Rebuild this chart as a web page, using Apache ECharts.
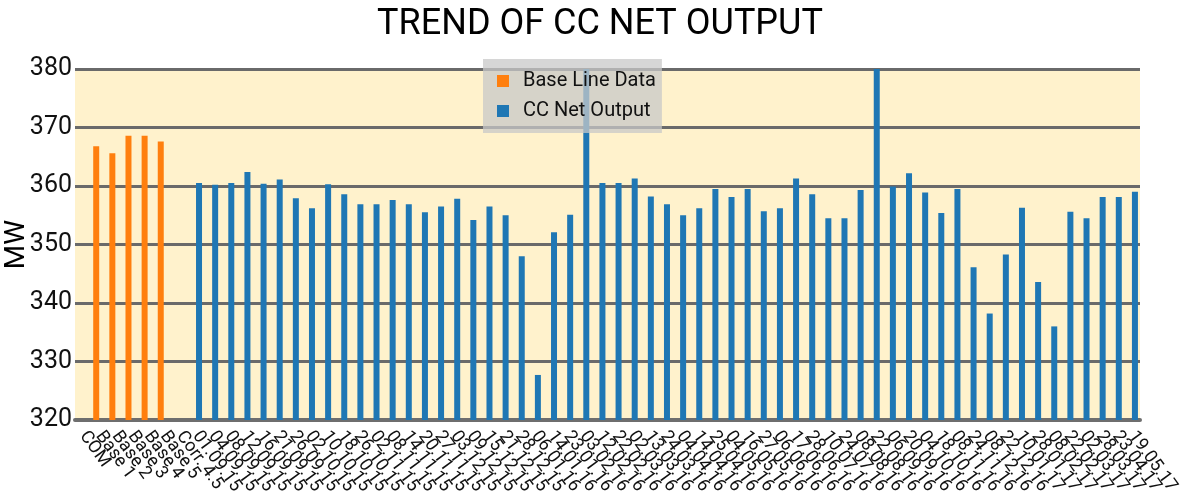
<!DOCTYPE html>
<html>
<head>
<meta charset="utf-8">
<script src="https://cdn.jsdelivr.net/npm/echarts@6/dist/echarts.min.js"></script>
<style>
html,body{margin:0;padding:0;background:#fff;}
#chart{width:1200px;height:500px;}
</style>
</head>
<body>
<div id="chart"></div>
<script>
// Category labels (x axis)
var headLabels = ["COM", "Base 1", "Base 2", "Base 3", "Base 4", "Base 5", "Corr. 4.5"];
var dateLabels = [
  "01.09.15","04.09.15","08.09.15","12.09.15","16.09.15","21.09.15","26.09.15",
  "02.10.15","10.10.15","18.10.15","26.10.15",
  "02.11.15","08.11.15","14.11.15","20.11.15","27.11.15",
  "03.12.15","09.12.15","15.12.15","21.12.15","28.12.15",
  "06.01.16","14.01.16","23.01.16",
  "03.02.16","12.02.16","22.02.16",
  "02.03.16","13.03.16","24.03.16",
  "04.04.16","14.04.16","25.04.16",
  "04.05.16","16.05.16","27.05.16",
  "06.06.16","17.06.16","28.06.16",
  "10.07.16","24.07.16",
  "08.08.16","22.08.16",
  "06.09.16","20.09.16",
  "04.10.16","18.10.16",
  "08.11.16","24.11.16",
  "08.12.16","22.12.16",
  "10.01.17","28.01.17",
  "08.02.17","22.02.17",
  "02.03.17","28.03.17",
  "23.04.17",
  "19.05.17"
];
// Base line values (categories "Base 1".."Base 5")
var baseLineValues = [366.8, 365.6, 368.6, 368.6, 367.6];
// CC net output values (one per date label)
var ccNetOutputValues = [
  360.5, 360.2, 360.5, 362.4, 360.4, 361.1, 357.9, 356.2, 360.3, 358.6,
  356.9, 356.9, 357.6, 356.9, 355.5, 356.5, 357.8, 354.2, 356.5, 355.0,
  348.0, 327.7, 352.1, 355.1, 386.0, 360.5, 360.5, 361.3, 358.2, 356.9,
  355.0, 356.2, 359.5, 358.1, 359.5, 355.7, 356.2, 361.3, 358.6, 354.5,
  354.5, 359.3, 386.0, 359.9, 362.2, 358.9, 355.4, 359.5, 346.1, 338.2,
  348.3, 356.3, 343.6, 336.0, 355.6, 354.5, 358.1, 358.1, 359.0
];
var yTicks = {min: 320, max: 380, step: 10};

var categories = headLabels.concat(dateLabels);
var baseSeries = categories.map(function(c, i){
  return (i >= 1 && i <= baseLineValues.length) ? baseLineValues[i - 1] : null;
});
var ccSeries = categories.map(function(c, i){
  var k = i - headLabels.length;
  return k >= 0 ? ccNetOutputValues[k] : null;
});

var chart = echarts.init(document.getElementById('chart'), null, {renderer: 'canvas'});
chart.setOption({
  animation: false,
  backgroundColor: '#ffffff',
  textStyle: {fontFamily: 'Roboto'},
  title: {
    text: 'TREND OF CC NET OUTPUT',
    left: 'center',
    top: 2,
    textStyle: {fontFamily: 'Roboto', fontWeight: 'normal', fontSize: 36, color: '#000'}
  },
  legend: {
    orient: 'vertical',
    left: 483,
    top: 59,
    padding: [12, 6, 12, 14],
    itemGap: 10,
    itemWidth: 12,
    itemHeight: 12,
    backgroundColor: 'rgba(200,200,200,0.75)',
    icon: 'rect',
    textStyle: {fontFamily: 'Roboto', fontSize: 20, color: '#111', padding: [0, 0, 0, 9]},
    data: ['Base Line Data', 'CC Net Output'],
    z: 10
  },
  grid: {
    left: 75, right: 60, top: 69, bottom: 80,
    containLabel: false,
    outerBoundsMode: 'none',
    show: true, backgroundColor: '#fff2cc', borderWidth: 0
  },
  xAxis: {
    type: 'category',
    data: categories,
    boundaryGap: true,
    axisLine: {lineStyle: {color: '#6e6e6e', width: 4}},
    axisTick: {alignWithLabel: true, length: 7, lineStyle: {color: '#8a8a8a', width: 1.5}},
    axisLabel: {interval: 0, rotate: -54, fontSize: 18, color: '#111', fontFamily: 'Roboto', margin: 13}
  },
  yAxis: {
    type: 'value',
    min: yTicks.min, max: yTicks.max, interval: yTicks.step,
    name: 'MW',
    nameLocation: 'middle',
    nameGap: 44,
    nameMoveOverlap: false,
    nameRotate: 90,
    nameTextStyle: {fontFamily: 'Roboto', fontSize: 28, color: '#000'},
    axisLine: {show: false},
    axisTick: {show: false},
    axisLabel: {fontSize: 25, color: '#111', fontFamily: 'Roboto', margin: 3},
    splitLine: {show: true, lineStyle: {color: '#6a6a6a', width: 3}}
  },
  series: [
    {
      name: 'Base Line Data', type: 'bar', data: baseSeries,
      barWidth: 6, barGap: '0%', clip: true,
      itemStyle: {color: '#ff7f0e'}
    },
    {
      name: 'CC Net Output', type: 'bar', data: ccSeries,
      barWidth: 6, barGap: '0%', clip: true,
      itemStyle: {color: '#1f77b4'}
    }
  ]
});
</script>
</body>
</html>
